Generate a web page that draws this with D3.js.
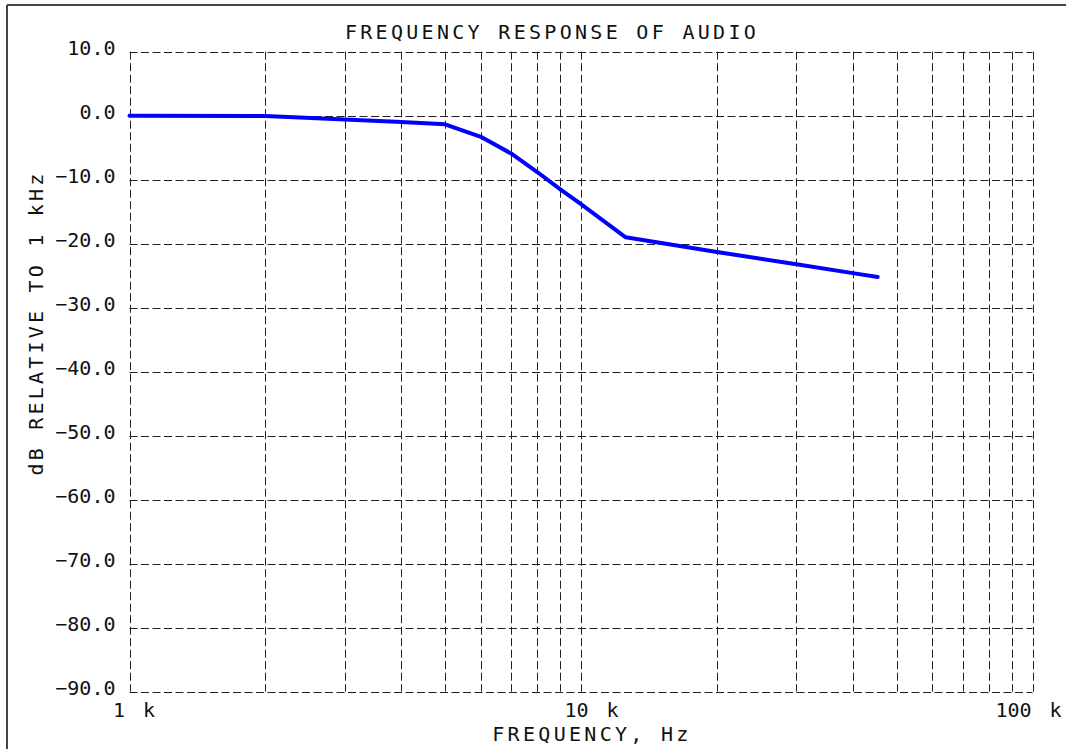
<!DOCTYPE html>
<html>
<head>
<meta charset="utf-8">
<script src="https://cdn.jsdelivr.net/npm/d3@7"></script>
<style>
  html, body { margin: 0; padding: 0; background: #ffffff; }
  svg { display: block; }
  text { font-family: "DejaVu Sans Mono", monospace; fill: #111; }
</style>
</head>
<body>
<script>
// ---- data ----
const title = "FREQUENCY RESPONSE OF AUDIO";
const xTitle = "FREQUENCY, Hz";
const yTitle = "dB RELATIVE TO 1 kHz";
const freqHz = [1000, 2000, 3000, 4000, 5000, 6000, 7000, 8000, 9000, 10000, 12560, 20000, 30000, 40000, 45400];
const responseDb = [0, -0.05, -0.6, -1.0, -1.35, -3.3, -5.9, -8.8, -11.5, -13.8, -19.0, -21.3, -23.2, -24.6, -25.2];
const yTicks = [10, 0, -10, -20, -30, -40, -50, -60, -70, -80, -90];
const yTickLabels = ["10.0", "0.0", "\u221210.0", "\u221220.0", "\u221230.0", "\u221240.0", "\u221250.0", "\u221260.0", "\u221270.0", "\u221280.0", "\u221290.0"];
const xLabelTicks = [1000, 10000, 100000];
const xTickLabels = ["1 k", "10 k", "100 k"];

// ---- layout ----
const W = 1066, H = 749;
const mLeft = 129.5, mRight = 1032.5, mTop = 51.7, mBottom = 691.7;

const svg = d3.select("body").append("svg").attr("width", W).attr("height", H);

// outer frame (top and left edges visible)
svg.append("line").attr("x1", 7).attr("x2", W).attr("y1", 5).attr("y2", 5)
  .attr("stroke", "#444").attr("stroke-width", 2);
svg.append("line").attr("x1", 7).attr("x2", 7).attr("y1", 5).attr("y2", H)
  .attr("stroke", "#444").attr("stroke-width", 2);

const x = d3.scaleLog().domain([1000, 100000]).range([mLeft, mRight]);
const y = d3.scaleLinear().domain([10, -90]).range([mTop, mBottom]);

// grid (all dashed, including the plot border)
const xGrid = [];
for (let dec = 1000; dec <= 10000; dec *= 10) {
  for (let m = 1; m <= 9; m++) xGrid.push(dec * m);
}
xGrid.push(100000);

const grid = svg.append("g").attr("stroke", "#222").attr("stroke-width", 1)
  .attr("stroke-dasharray", "8,3.5").attr("fill", "none");

grid.selectAll("line.v").data(xGrid).enter().append("line")
  .attr("class", "v")
  .attr("x1", d => Math.round(x(d)) + 0.5).attr("x2", d => Math.round(x(d)) + 0.5)
  .attr("y1", y(10)).attr("y2", y(-90));

grid.selectAll("line.h").data(yTicks).enter().append("line")
  .attr("class", "h")
  .attr("y1", d => Math.round(y(d)) + 0.5).attr("y2", d => Math.round(y(d)) + 0.5)
  .attr("x1", x(1000)).attr("x2", x(100000));

// y tick labels
svg.append("g").selectAll("text").data(yTicks).enter().append("text")
  .attr("x", mLeft - 14)
  .attr("y", d => y(d) + 3)
  .attr("text-anchor", "end")
  .attr("font-size", 20)
  .text((d, i) => yTickLabels[i]);

// x tick labels
const xLabelDx = [4.5, 10.5, -4];
svg.append("g").selectAll("text").data(xLabelTicks).enter().append("text")
  .attr("x", (d, i) => x(d) + xLabelDx[i])
  .attr("y", mBottom + 25)
  .attr("text-anchor", "middle")
  .attr("font-size", 20)
  .attr("word-spacing", 6)
  .text((d, i) => xTickLabels[i]);

// titles
svg.append("text")
  .attr("x", 552).attr("y", 39)
  .attr("text-anchor", "middle")
  .attr("font-size", 20)
  .attr("letter-spacing", 3.3)
  .text(title);

svg.append("text")
  .attr("x", 592).attr("y", 741)
  .attr("text-anchor", "middle")
  .attr("font-size", 20)
  .attr("letter-spacing", 3.3)
  .text(xTitle);

svg.append("text")
  .attr("transform", "translate(43,323) rotate(-90)")
  .attr("text-anchor", "middle")
  .attr("font-size", 20)
  .attr("letter-spacing", 3.2)
  .text(yTitle);

// response curve
const pts = freqHz.map((f, i) => [f, responseDb[i]]);
const line = d3.line().x(d => x(d[0])).y(d => y(d[1]));
svg.append("path")
  .datum(pts)
  .attr("d", line)
  .attr("fill", "none")
  .attr("stroke", "#0000ff")
  .attr("stroke-width", 4)
  .attr("stroke-linejoin", "round")
  .attr("stroke-linecap", "round");
</script>
</body>
</html>
